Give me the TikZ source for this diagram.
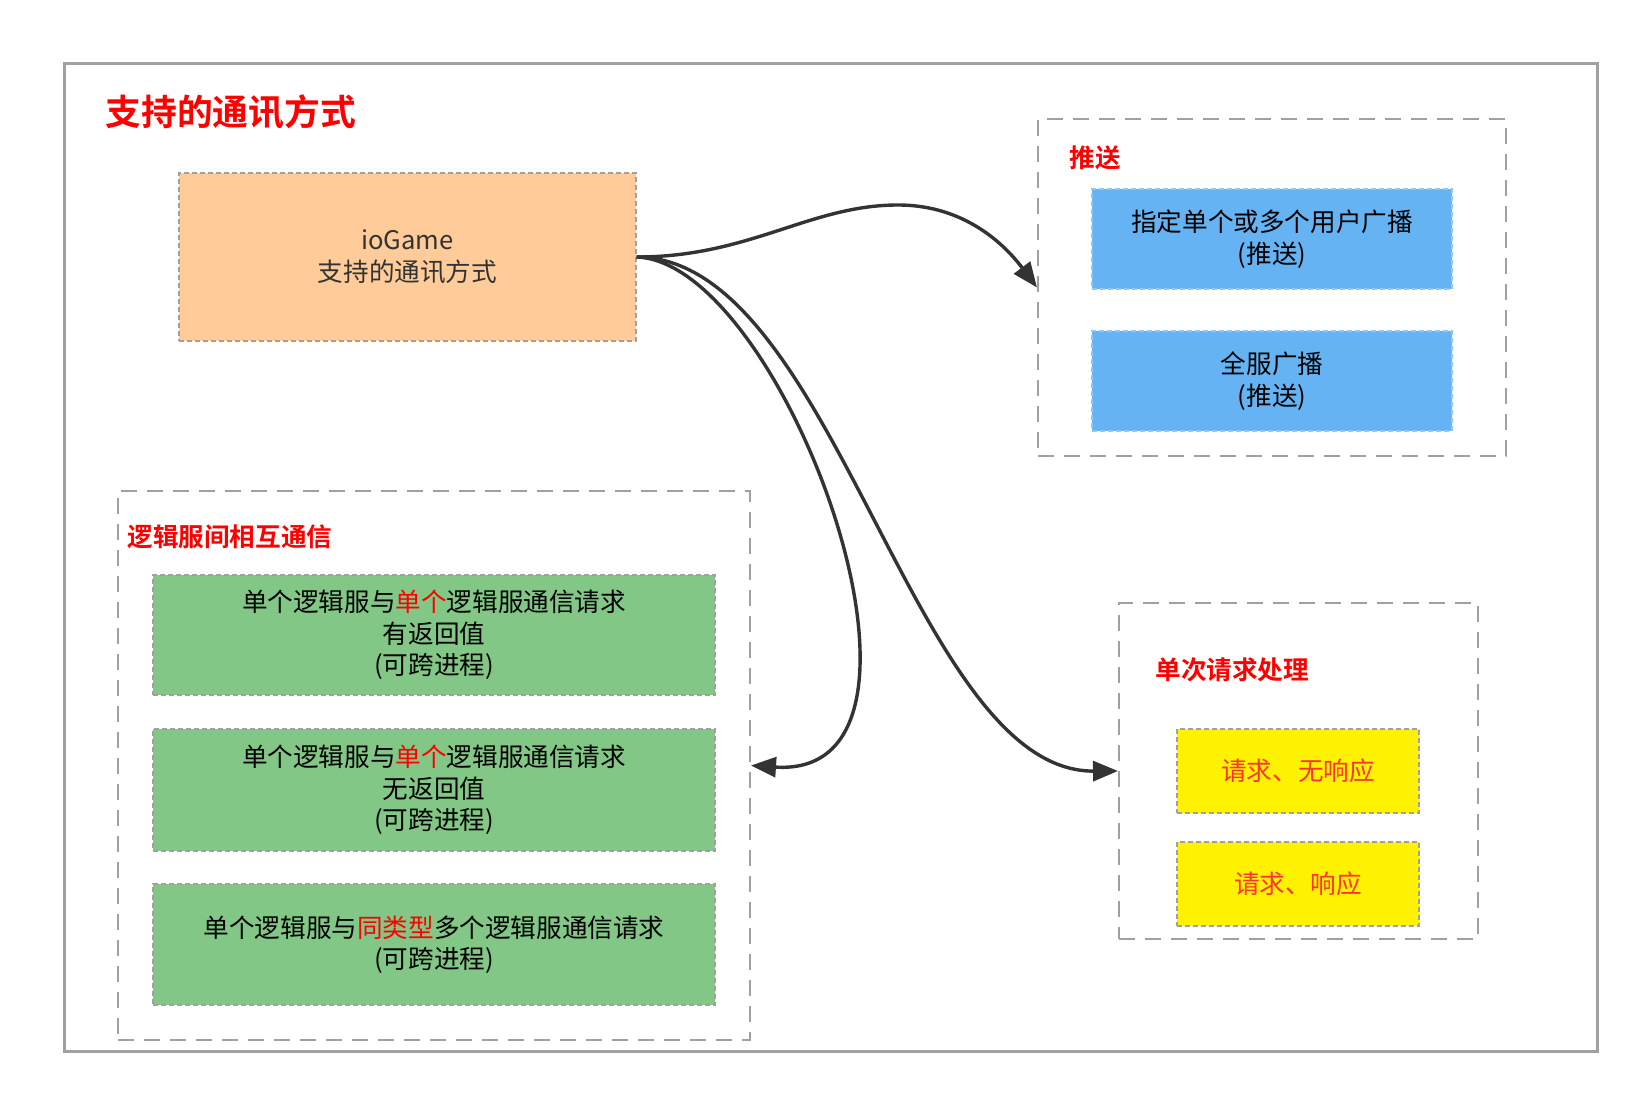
\documentclass[tikz,border=0pt]{standalone}
\usepackage{fontspec}
\setmainfont{Noto Sans CJK SC}[BoldFont={Noto Sans CJK SC Bold}]
\usetikzlibrary{arrows.meta, positioning}

\definecolor{peach}{HTML}{FFCC99}
\definecolor{skyblue}{HTML}{66B3F4}
\definecolor{skyedge}{HTML}{8CC8F8}
\definecolor{leaf}{HTML}{82C785}
\definecolor{edgegray}{HTML}{A0A0A0}
\definecolor{ink}{HTML}{333333}
\definecolor{warn}{HTML}{FF3333}

\begin{document}
\begin{tikzpicture}[
		x=0.5pt, y=-0.5pt,
		% boxes
		box/.style = {rectangle, align=center, font=\fontsize{12.8}{15.75}\selectfont, draw=edgegray, line width=0.6pt, dash pattern=on 2.5pt off 1.5pt},
		corebox/.style = {box, fill=peach, text=ink, minimum width=228.5pt, minimum height=84pt},
		pushbox/.style = {box, fill=skyblue, draw=skyedge, minimum width=180pt, minimum height=50pt},
		logicbox/.style = {box, fill=leaf, minimum width=281pt, minimum height=60pt},
		reqbox/.style = {box, fill=yellow, text=warn, minimum width=121pt, minimum height=42pt},
		% dashed groups
		group/.style = {rectangle, draw=edgegray, line width=1pt, dash pattern=on 8pt off 5pt},
		grouplabel/.style = {anchor=west, text=red, font=\fontsize{12.8}{15.75}\selectfont\bfseries, inner sep=0pt},
		link/.style = {draw=ink, line width=1.7pt, -{Triangle[length=12.5pt,width=10pt]}}
		]
		\useasboundingbox (0,0) rectangle (1647,1101);
		
		% --- outer frame + title ---
		\draw [edgegray, line width=1.5pt] (64,64) rectangle (1597,1051);
		\node [anchor=west, inner sep=0pt, text=red, font=\fontsize{17.9}{20}\selectfont\bfseries] (title) at (105,112) {支持的通讯方式};
		
		% --- ioGame ---
		\node [corebox] (core) at (407.5,257) {ioGame\\支持的通讯方式};
		
		% --- push ---
		\node [group, minimum width=234pt, minimum height=168.5pt] (push) at (1272,287.5) {};
		\node [grouplabel] (pushtitle) at (1069,158) {推送};
		\node [pushbox] (bcuser) at (1272,239) {指定单个或多个用户广播\\(推送)};
		\node [pushbox] (bcall) at (1272,381) {全服广播\\(推送)};
		
		% --- logic servers ---
		\node [group, minimum width=316pt, minimum height=274.5pt] (logic) at (434,765.5) {};
		\node [grouplabel] (logictitle) at (127,537) {逻辑服间相互通信};
		\node [logicbox] (reqret) at (434,635) {单个逻辑服与\textcolor{red}{单个}逻辑服通信请求\\有返回值\\(可跨进程)};
		\node [logicbox, minimum height=61pt] (reqvoid) at (434,790) {单个逻辑服与\textcolor{red}{单个}逻辑服通信请求\\无返回值\\(可跨进程)};
		\node [logicbox, minimum height=60.5pt] (reqmulti) at (434,944.5) {单个逻辑服与\textcolor{red}{同类型}多个逻辑服通信请求\\(可跨进程)};
		
		% --- single request ---
		\node [group, minimum width=179.5pt, minimum height=168pt] (single) at (1298.5,771) {};
		\node [grouplabel] (singletitle) at (1155,670) {单次请求处理};
		\node [reqbox] (noresp) at (1298,771) {请求、无响应};
		\node [reqbox] (resp) at (1298,884) {请求、响应};
		
		% --- connectors ---
		\coordinate (pushtop) at (898,205);
		\draw [link] (core.east) .. controls (750,257) and (810,205) .. (pushtop)
			.. controls (965,205) and (1005,245) .. (push.west);
		\draw [link] (core.east) .. controls (785,262) and (972,780) .. (logic.east);
		\draw [link] (core.east) .. controls (835,258) and (912,772) .. (single.west);
		
	\end{tikzpicture}
\end{document}
